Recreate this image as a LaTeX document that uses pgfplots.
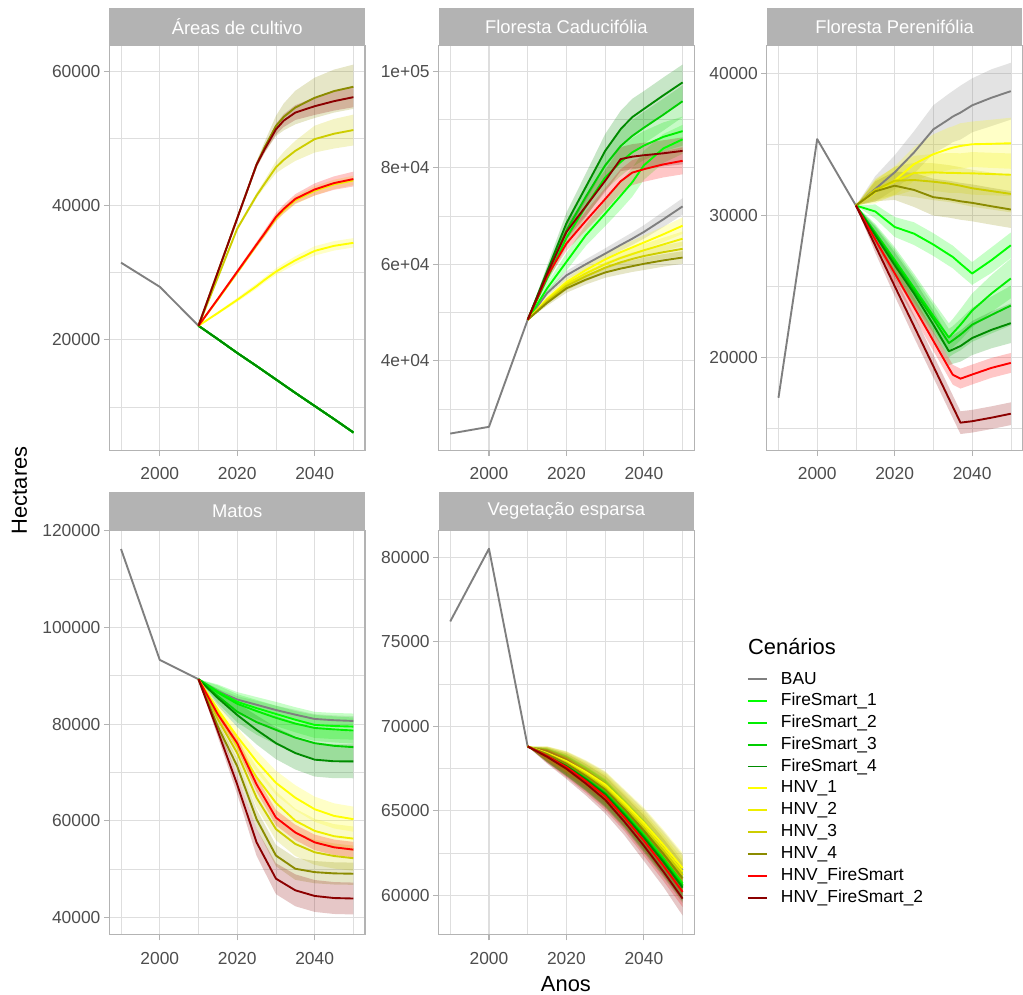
\documentclass[border=0pt]{standalone}
\usepackage{fontspec}
\setmainfont{Liberation Sans}
\usepackage{pgfplots}
\usepackage{pgfplotstable}
\pgfplotsset{compat=1.18}
\usepgfplotslibrary{fillbetween}

\definecolor{cBAU}{HTML}{7F7F7F}
\definecolor{cFS1}{HTML}{00FF00}
\definecolor{cFS2}{HTML}{00EE00}
\definecolor{cFS3}{HTML}{00CD00}
\definecolor{cFS4}{HTML}{008B00}
\definecolor{cH1}{HTML}{FFFF00}
\definecolor{cH2}{HTML}{EEEE00}
\definecolor{cH3}{HTML}{CDCD00}
\definecolor{cH4}{HTML}{8B8B00}
\definecolor{cHF}{HTML}{FF0000}
\definecolor{cHF2}{HTML}{8B0000}
\definecolor{grey70}{HTML}{B3B3B3}
\definecolor{grey87}{HTML}{DEDEDE}
\definecolor{tickgrey}{HTML}{4D4D4D}

\newcommand{\fs}{\fontsize{17.5}{20}\selectfont}
\newcommand{\sfs}{\fontsize{18.5}{21}\selectfont}

% ---------- data: means and ribbon half-widths ----------
\pgfplotstableread{
year BAU FS1 FS2 FS3 FS4 H1 H2 H3 H4 HF HF2 wBAU wFS1 wFS2 wFS3 wFS4 wH1 wH2 wH3 wH4 wHF wHF2
2010 22100 22100 22100 22100 22100 22100 22100 22100 22100 22100 22100 0 0 0 0 0 0 0 0 0 0 0
2015 20100 20100 20100 20100 20100 24000 26000 29300 30100 26100 30100 100 100 100 100 100 200 200 200 200 200 200
2020 18050 18050 18050 18050 18050 25950 30000 36550 38100 30150 38100 150 150 150 150 150 300 300 300 300 300 300
2025 16100 16100 16100 16100 16100 28000 34100 41500 46100 34200 46100 150 150 150 150 150 400 400 400 500 400 400
2027 15300 15300 15300 15300 15300 28900 35700 43200 48600 35800 48300 150 150 150 150 150 400 400 500 800 500 500
2030 14100 14100 14100 14100 14100 30150 38100 45700 51850 38300 51350 150 150 150 150 150 500 500 900 1500 600 800
2032 13300 13300 13300 13300 13300 30850 39300 46800 53200 39500 52650 150 150 150 150 150 550 550 1200 2000 650 950
2035 12100 12100 12100 12100 12100 31850 40800 48150 54600 41000 53850 150 150 150 150 150 600 600 1500 2500 700 1100
2040 10150 10150 10150 10150 10150 33250 42200 49900 56050 42400 54800 150 150 150 150 150 700 700 2000 3000 900 1300
2045 8200 8200 8200 8200 8200 34000 43150 50700 57050 43350 55550 150 150 150 150 150 700 700 2200 3200 1000 1400
2050 6200 6200 6200 6200 6200 34450 43750 51250 57700 43950 56150 150 150 150 150 150 700 700 2300 3300 1100 1500
}\tabA

\pgfplotstableread{
year BAU FS1 FS2 FS3 FS4 H1 H2 H3 H4 HF HF2 wBAU wFS1 wFS2 wFS3 wFS4 wH1 wH2 wH3 wH4 wHF wHF2
2010 48500 48500 48500 48500 48500 48500 48500 48500 48500 48500 48500 0 0 0 0 0 0 0 0 0 0 0
2015 54000 55000 57000 58000 58500 52800 52600 52300 52000 57500 58000 600 1000 1000 1200 1200 600 600 600 600 800 800
2020 57700 60500 65500 67000 68500 56300 55900 55500 55000 64300 66700 900 1800 1800 2000 2200 900 900 900 900 1500 1500
2025 60000 66000 72000 74000 76000 58800 58100 57500 56800 69000 72000 1000 2200 2200 2500 2800 1000 1000 1000 1000 2000 2000
2030 62200 70500 78000 80500 83500 61000 60000 59300 58300 73500 77300 1100 2600 2600 3000 3500 1200 1100 1100 1100 2300 2300
2034 64000 74200 81200 84500 88000 62500 61300 60400 59100 77200 81800 1200 2900 2900 3200 3800 1300 1200 1200 1200 2500 2500
2037 65300 77000 83200 86600 90500 63500 62100 61100 59600 79000 82300 1300 3000 3000 3300 3800 1400 1300 1300 1200 2600 2600
2040 66700 80500 84600 88300 92200 64500 62900 61700 60100 79700 82600 1400 3000 3000 3300 3700 1500 1300 1300 1300 2600 2600
2045 69300 84000 86400 91000 95000 66200 64100 62500 60800 80700 83000 1600 3000 3000 3300 3700 1600 1400 1400 1300 2700 2700
2050 72000 85900 87600 93800 97700 68000 65300 63200 61400 81450 83500 1700 3000 3000 3300 3700 1700 1500 1500 1300 2800 2800
}\tabB

\pgfplotstableread{
year BAU FS1 FS2 FS3 FS4 H1 H2 H3 H4 HF HF2 wBAU wFS1 wFS2 wFS3 wFS4 wH1 wH2 wH3 wH4 wHF wHF2
2010 30700 30700 30700 30700 30700 30700 30700 30700 30700 30700 30700 0 0 0 0 0 0 0 0 0 0 0
2015 31870 30280 28800 28700 28600 31660 31800 31800 31700 28300 27870 900 500 600 600 600 800 800 700 700 500 500
2020 33040 29190 26870 26700 26500 32450 32380 32450 32100 25930 25030 1200 700 900 900 900 1000 1000 1000 1000 700 700
2025 34440 28720 24900 24700 24500 33620 33000 32500 31800 23540 22200 1500 800 1000 1000 1000 1200 1200 1200 1200 700 800
2030 36070 27950 22920 22700 22300 34320 33040 32380 31290 21160 19370 1700 800 1000 1000 1000 1400 1300 1300 1300 700 800
2034 36780 27250 21400 21010 20430 34700 33000 32250 31150 19250 17100 1800 800 1000 1000 1000 1500 1400 1300 1300 700 800
2035 36970 27080 21700 21200 20550 34780 33000 32200 31100 18780 16530 1800 800 1000 1000 1000 1500 1400 1300 1300 700 800
2037 37250 26600 22300 21600 20800 34900 32980 32100 31000 18500 15400 1900 800 1100 1100 1100 1600 1400 1300 1300 700 800
2040 37760 25910 23300 22300 21360 35020 32970 31920 30890 18790 15500 1900 800 1200 1200 1200 1600 1500 1300 1300 700 800
2045 38300 26850 24500 22990 21940 35050 32920 31720 30650 19260 15750 2000 900 1300 1300 1300 1700 1500 1300 1300 700 800
2050 38760 27900 25560 23650 22410 35090 32870 31520 30420 19610 16030 2000 900 1400 1400 1400 1800 1500 1300 1300 700 800
}\tabC

\pgfplotstableread{
year BAU FS1 FS2 FS3 FS4 H1 H2 H3 H4 HF HF2 wBAU wFS1 wFS2 wFS3 wFS4 wH1 wH2 wH3 wH4 wHF wHF2
2010 89270 89270 89270 89270 89270 89270 89270 89270 89270 89270 89270 0 0 0 0 0 0 0 0 0 0 0
2015 86800 86700 86500 85800 85400 83000 82500 81000 79500 82000 78500 500 1500 1500 1500 1600 1000 1000 1000 1000 800 1200
2020 85080 84610 84200 82560 81880 77430 75500 74000 71270 76050 67500 700 2000 2000 2200 2500 1800 1800 1500 1500 1200 2000
2025 84000 83300 82700 80400 78800 72290 69000 64760 60320 67500 55520 800 2300 2300 2600 3000 2200 2200 2000 2000 1500 2800
2030 82910 82090 81300 78800 76050 67840 63700 58270 52790 60650 48010 900 2500 2500 3000 3300 2500 2400 2300 2200 1600 3200
2035 81950 80900 80100 77200 74000 64760 60000 55190 50060 57570 45600 1000 2600 2600 3100 3400 2600 2500 2500 2300 1600 3300
2040 81060 79830 79200 76050 72640 62380 57900 53470 49360 55520 44430 1000 2700 2700 3200 3500 2600 2500 2600 2300 1600 3300
2045 80800 79600 78900 75500 72300 61000 56800 52700 49100 54500 44000 1000 2700 2700 3200 3500 2600 2500 2600 2300 1600 3300
2050 80650 79480 78660 75230 72290 60320 56300 52240 49030 54020 43900 1000 2700 2700 3200 3500 2600 2500 2600 2300 1600 3300
}\tabD

\pgfplotstableread{
year BAU FS1 FS2 FS3 FS4 H1 H2 H3 H4 HF HF2 wBAU wFS1 wFS2 wFS3 wFS4 wH1 wH2 wH3 wH4 wHF wHF2
2010 68800 68800 68800 68800 68800 68800 68800 68800 68800 68800 68800 0 0 0 0 0 0 0 0 0 0 0
2015 68400 68300 68290 68280 68270 68410 68390 68360 68340 68240 68190 400 400 400 400 400 400 400 400 400 400 400
2020 67900 67700 67680 67660 67640 67930 67880 67830 67780 67580 67480 600 600 600 600 600 600 600 600 600 600 600
2025 67250 66950 66910 66890 66860 67290 67210 67140 67060 66760 66610 700 700 700 700 700 700 700 700 700 700 700
2030 66500 66100 66050 66030 65980 66550 66450 66350 66250 65850 65650 800 800 800 800 800 800 800 800 800 800 800
2035 65400 64900 64840 64810 64740 65460 65340 65210 65090 64590 64340 800 800 800 800 800 800 800 800 800 800 800
2040 64200 63600 63530 63490 63410 64280 64130 63980 63830 63230 62930 900 900 900 900 900 900 900 900 900 900 900
2045 62900 62200 62110 62070 61980 62990 62810 62640 62460 61760 61410 900 900 900 900 900 900 900 900 900 900 900
2050 61500 60700 60600 60550 60450 61600 61400 61200 61000 60200 59800 900 900 900 900 900 900 900 900 900 900 1000
}\tabE

\newcommand{\drawribbons}[2]{%
  \pgfplotsinvokeforeach{BAU,FS1,FS2,FS3,FS4,H1,H2,H3,H4,HF,HF2}{%
    \addplot[draw=none, name path=#2lo##1] table[x=year, y expr=\thisrow{##1}-\thisrow{w##1}]{#1};
    \addplot[draw=none, name path=#2hi##1] table[x=year, y expr=\thisrow{##1}+\thisrow{w##1}]{#1};
    \addplot[fill=c##1, fill opacity=0.22, draw=none] fill between[of=#2lo##1 and #2hi##1];
  }%
}
\newcommand{\drawlines}[1]{%
  \pgfplotsinvokeforeach{BAU,FS1,FS2,FS3,FS4,H1,H2,H3,H4,HF,HF2}{%
    \addplot[c##1, line width=1.9pt, line join=round] table[x=year, y=##1]{#1};
  }%
}
\newcommand{\strip}[1]{%
  \fill[grey70] (rel axis cs:0,1) rectangle ([yshift=38pt]rel axis cs:1,1);
  \node[text=white, font=\sfs] at ([yshift=19pt]rel axis cs:0.5,1) {#1};
}

\pgfplotsset{panel/.style={
  scale only axis, width=257pt, height=407pt,
  xmin=1987, xmax=2053,
  xtick={2000,2020,2040}, xticklabels={2000,2020,2040},
  minor xtick={1990,2010,2030,2050},
  grid=both,
  major grid style={color=grey87, line width=1.1pt},
  minor grid style={color=grey87, line width=0.55pt},
  tick pos=left, tick align=outside,
  major tick length=5.5pt, minor tick length=0pt,
  tick style={color=grey70, line width=1.1pt},
  axis line style={color=grey70, line width=1.1pt},
  ticklabel style={font=\fs, text=tickgrey},
  xticklabel style={yshift=-8pt},
  yticklabel style={xshift=0pt},
  clip=false,
}}

\begin{document}
\begin{tikzpicture}

% Panel A
\begin{axis}[panel, at={(110pt,546pt)}, anchor=south west,
  ymin=3511, ymax=63807,
  ytick={20000,40000,60000}, yticklabels={20000,40000,60000},
  minor ytick={10000,30000,50000}]
\drawribbons{\tabA}{A}
\addplot[cBAU, line width=1.9pt, line join=round] coordinates {(1990,31500) (2000,27900) (2010,22100)};
\drawlines{\tabA}
\strip{Áreas de cultivo}
\end{axis}

% Panel B
\begin{axis}[panel, at={(441pt,546pt)}, anchor=south west,
  ymin=21382, ymax=105300,
  ytick={40000,60000,80000,100000}, yticklabels={4e+04,6e+04,8e+04,1e+05},
  minor ytick={30000,50000,70000,90000}]
\drawribbons{\tabB}{B}
\addplot[cBAU, line width=1.9pt, line join=round] coordinates {(1990,24900) (2000,26300) (2010,48500)};
\drawlines{\tabB}
\strip{Floresta Caducifólia}
\end{axis}

% Panel C
\begin{axis}[panel, at={(771pt,546pt)}, anchor=south west,
  ymin=13434, ymax=41962,
  ytick={20000,30000,40000}, yticklabels={20000,30000,40000},
  minor ytick={15000,25000,35000}]
\drawribbons{\tabC}{C}
\addplot[cBAU, line width=1.9pt, line join=round] coordinates {(1990,17150) (2000,35380) (2010,30700)};
\drawlines{\tabC}
\strip{Floresta Perenifólia}
\end{axis}

% Panel D
\begin{axis}[panel, at={(110pt,59pt)}, anchor=south west,
  ymin=36366, ymax=120144,
  ytick={40000,60000,80000,100000,120000}, yticklabels={40000,60000,80000,100000,120000},
  minor ytick={50000,70000,90000,110000}]
\drawribbons{\tabD}{D}
\addplot[cBAU, line width=1.9pt, line join=round] coordinates {(1990,116230) (2000,93300) (2010,89270)};
\drawlines{\tabD}
\strip{Matos}
\end{axis}

% Panel E
\begin{axis}[panel, at={(441pt,59pt)}, anchor=south west,
  ymin=57653, ymax=81602,
  ytick={60000,65000,70000,75000,80000}, yticklabels={60000,65000,70000,75000,80000},
  minor ytick={62500,67500,72500,77500}]
\drawribbons{\tabE}{E}
\addplot[cBAU, line width=1.9pt, line join=round] coordinates {(1990,76200) (2000,80500) (2010,68800)};
\drawlines{\tabE}
\strip{Vegetação esparsa}
\end{axis}

% axis titles
\node[rotate=90, font=\fontsize{22}{26}\selectfont] at (19.5pt,506pt) {Hectares};
\node[font=\fontsize{22}{26}\selectfont] at (569pt,10pt) {Anos};

% legend
\node[anchor=west, font=\fontsize{22}{26}\selectfont, inner sep=0pt] at (752pt,349pt) {Cenários};
\foreach \c/\t [count=\i from 0] in {cBAU/BAU, cFS1/FireSmart\_1, cFS2/FireSmart\_2, cFS3/FireSmart\_3, cFS4/FireSmart\_4, cH1/HNV\_1, cH2/HNV\_2, cH3/HNV\_3, cH4/HNV\_4, cHF/HNV\_FireSmart, cHF2/HNV\_FireSmart\_2}{
  \draw[\c, line width=1.9pt] (752pt,{316.3pt-\i*22pt}) -- (771pt,{316.3pt-\i*22pt});
  \node[anchor=west, font=\fs, inner sep=0pt] at (785pt,{316.3pt-\i*22pt}) {\t};
}
\useasboundingbox (0pt,0pt) rectangle (1023pt,999pt);
\end{tikzpicture}
\end{document}
